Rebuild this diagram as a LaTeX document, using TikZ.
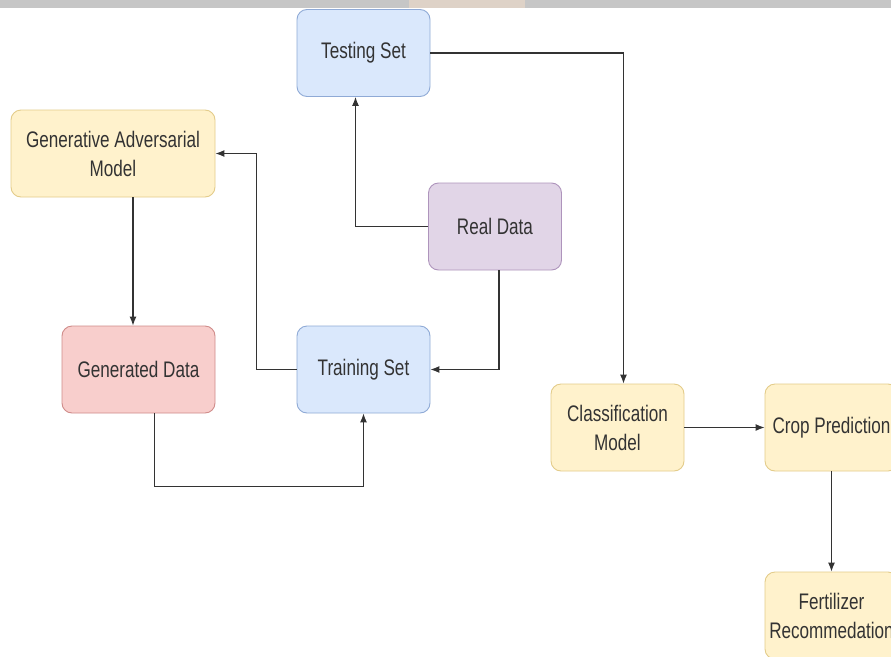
\documentclass[tikz,border=0pt]{standalone}
\usepackage{fontspec}
\setmainfont{Liberation Sans}[FakeStretch=0.76]
\usetikzlibrary{arrows.meta}
\definecolor{bluefill}{HTML}{DAE8FC}
\definecolor{bluedraw}{HTML}{8FAAD6}
\definecolor{yelfill}{HTML}{FFF2CC}
\definecolor{yeldraw}{HTML}{E3CC8A}
\definecolor{purfill}{HTML}{E1D5E7}
\definecolor{purdraw}{HTML}{AE94BC}
\definecolor{redfill}{HTML}{F8CECC}
\definecolor{reddraw}{HTML}{D08C8A}
\definecolor{txt}{HTML}{333333}
\definecolor{ln}{HTML}{333333}
\tikzset{
  box/.style={rounded corners=10pt, line width=0.9pt, minimum width=133pt, minimum height=87pt,
    align=center, text=txt, font=\fontsize{22.5}{29}\selectfont, inner sep=2pt},
  bluebox/.style={box, fill=bluefill, draw=bluedraw},
  yelbox/.style={box, fill=yelfill, draw=yeldraw},
  purbox/.style={box, fill=purfill, draw=purdraw},
  redbox/.style={box, fill=redfill, draw=reddraw},
  arr/.style={draw=ln, line width=1.1pt, -{Latex[length=9pt,width=7pt]}}
}
\begin{document}
\begin{tikzpicture}[x=1pt,y=-1pt]
\useasboundingbox (0,0) rectangle (891,656);
\fill[white] (0,0) rectangle (891,656);
\fill[gray!45] (0,0) rectangle (891,8);
\fill[orange!25!gray!35] (409,0) rectangle (525,8);

\node[bluebox] (test) at (363.5,53) {Testing Set};
\node[yelbox, minimum width=204pt] (gam) at (113,153.5) {Generative Adversarial\\Model};
\node[purbox] (real) at (495,226.5) {Real Data};
\node[redbox, minimum width=153pt] (gen) at (138.5,369.5) {Generated Data};
\node[bluebox] (train) at (363.5,369.5) {Training Set};
\node[yelbox] (cls) at (617.5,427.5) {Classification\\Model};
\node[yelbox] (crop) at (831.5,427.5) {Crop Prediction};
\node[yelbox] (fert) at (831.5,615.5) {Fertilizer\\Recommedation};

\draw[arr] (real.west) -| ([xshift=-8pt]test.south);
\draw[arr] ([xshift=4pt]real.south) |- (train.east);
\draw[arr] (train.west) -- ++(-40,0) |- (gam.east);
\draw[arr] ([xshift=20pt]gam.south) -- ([xshift=20pt]gam.south |- gen.north);
\draw[arr] ([xshift=16pt]gen.south) -- ++(0,73) -| (train.south);
\draw[arr] (test.east) -| ([xshift=6pt]cls.north);
\draw[arr] (cls.east) -- (crop.west);
\draw[arr] (crop.south) -- (fert.north);
\end{tikzpicture}
\end{document}
